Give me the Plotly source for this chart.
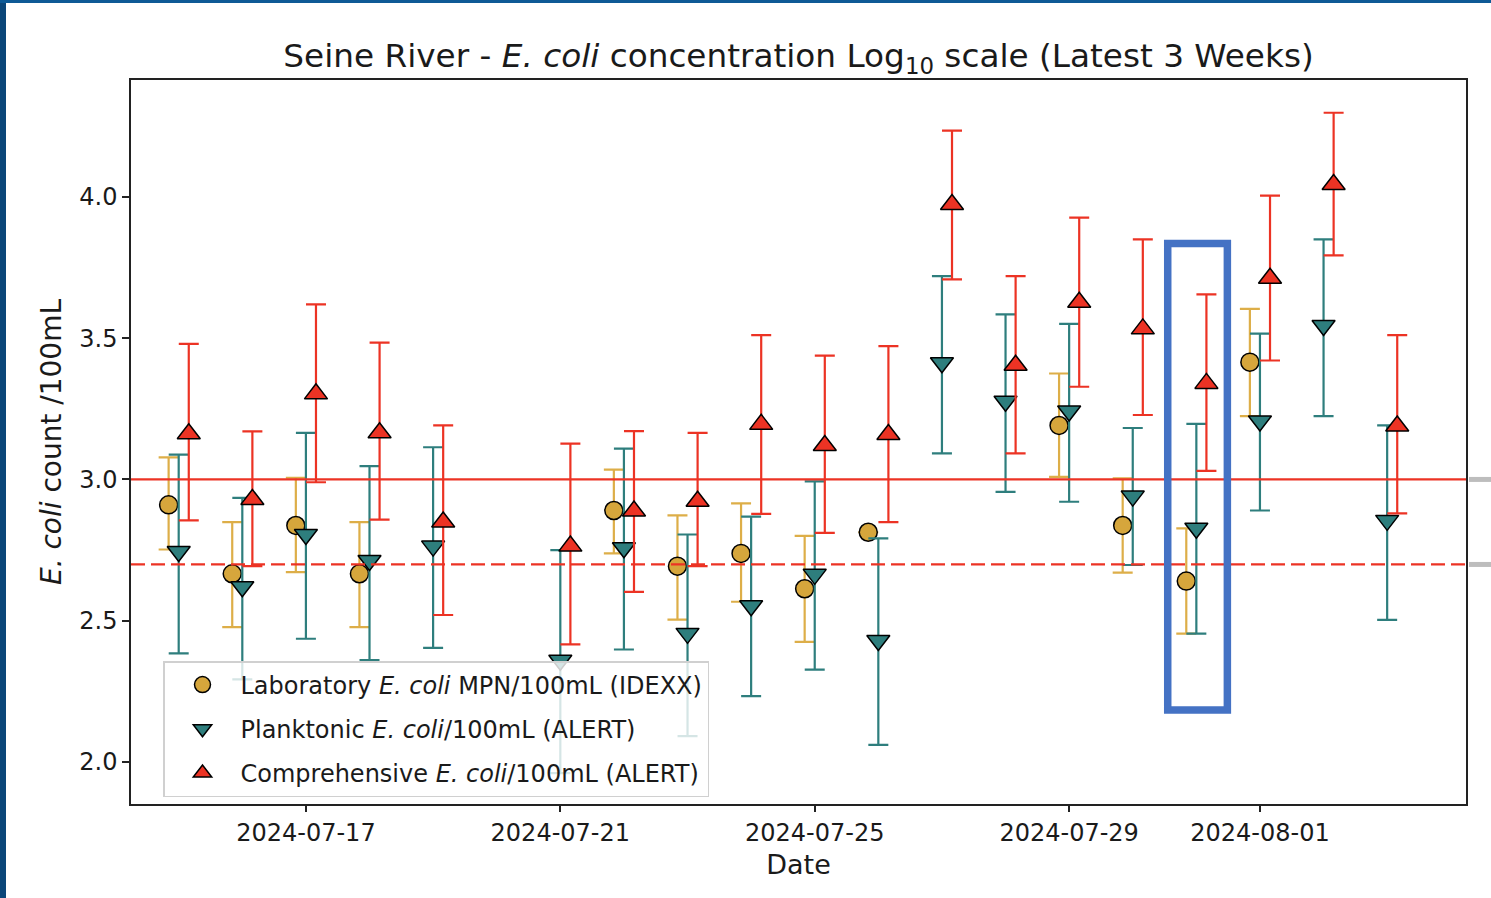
import plotly.graph_objects as go
import pandas as pd

# ---------------- data (log10 E. coli per 100 mL) ----------------
dates = ["2024-07-15", "2024-07-16", "2024-07-17", "2024-07-18", "2024-07-19",
         "2024-07-21", "2024-07-22", "2024-07-23", "2024-07-24", "2024-07-25",
         "2024-07-26", "2024-07-27", "2024-07-28", "2024-07-29", "2024-07-30",
         "2024-07-31", "2024-08-01", "2024-08-02", "2024-08-03"]

lab_value = [2.91, 2.666, 2.837, 2.666, None, None, 2.89, 2.693, 2.738, 2.613,
             2.813, None, None, 3.191, 2.837, 2.64, 3.415, None, None]
lab_upper = [3.078, 2.849, 3.006, 2.849, None, None, 3.035, 2.873, 2.915, 2.80,
             2.813, None, None, 3.375, 3.004, 2.827, 3.604, None, None]
lab_lower = [2.752, 2.477, 2.672, 2.477, None, None, 2.738, 2.504, 2.567, 2.425,
             2.813, None, None, 3.009, 2.67, 2.454, 3.224, None, None]

plank_value = [2.745, 2.62, 2.805, 2.713, 2.764, 2.36, 2.758, 2.455, 2.553, 2.664,
               2.43, 3.413, 3.277, 3.242, 2.941, 2.827, 3.207, 3.545, 2.855]
plank_upper = [3.088, 2.935, 3.165, 3.047, 3.114, 2.75, 3.109, 2.805, 2.868, 2.993,
               2.791, 3.72, 3.584, 3.551, 3.182, 3.197, 3.516, 3.85, 3.191]
plank_lower = [2.384, 2.292, 2.436, 2.36, 2.404, 1.96, 2.398, 2.091, 2.233, 2.327,
               2.06, 3.092, 2.956, 2.921, 2.697, 2.454, 2.89, 3.224, 2.503]

comp_value = [3.162, 2.929, 3.303, 3.165, 2.849, 2.764, 2.888, 2.923, 3.195, 3.12,
              3.159, 3.973, 3.404, 3.627, 3.533, 3.34, 3.712, 4.044, 3.189]
comp_upper = [3.48, 3.17, 3.62, 3.484, 3.191, 3.127, 3.171, 3.165, 3.511, 3.438,
              3.472, 4.235, 3.72, 3.927, 3.85, 3.655, 4.005, 4.298, 3.511]
comp_lower = [2.855, 2.693, 2.99, 2.858, 2.52, 2.416, 2.602, 2.693, 2.878, 2.811,
              2.849, 3.708, 3.092, 3.328, 3.228, 3.03, 3.421, 3.793, 2.88]

threshold_solid = 3.0      # log10(1000)
threshold_dashed = 2.699   # log10(500)

x_tick_dates = ["2024-07-17", "2024-07-21", "2024-07-25", "2024-07-29", "2024-08-01"]
y_tick_vals = [2.0, 2.5, 3.0, 3.5, 4.0]
y_tick_text = ["2.0", "2.5", "3.0", "3.5", "4.0"]

highlight_date = "2024-07-31"

# ---------------- styling ----------------
LAB_COLOR = "#D6A63C"
LAB_ERR = "#DDAE48"
PLANK_COLOR = "#2E7E7D"
COMP_COLOR = "#EC3324"
FONT = "DejaVu Sans"

W, H = 1491, 898
ML, MR, MT, MB = 131, 25, 80, 94
X_RANGE = ["2024-07-14 06:00", "2024-08-04 05:45"]
Y_RANGE = [1.851, 4.414]
SHIFT_H = 3.8


def build(values, upper, lower, shift_h):
    xs, ys, ep, em = [], [], [], []
    for d, v, u, l in zip(dates, values, upper, lower):
        if v is None:
            continue
        xs.append(pd.Timestamp(d) + pd.Timedelta(hours=shift_h))
        ys.append(v)
        ep.append(u - v)
        em.append(v - l)
    return xs, ys, ep, em


fig = go.Figure()

series = [
    ("Laboratory <i>E. coli</i> MPN/100mL (IDEXX)", lab_value, lab_upper, lab_lower,
     -SHIFT_H, "circle", LAB_COLOR, LAB_ERR, 18),
    ("Planktonic <i>E. coli</i>/100mL (ALERT)", plank_value, plank_upper, plank_lower,
     0, "triangle-down", PLANK_COLOR, PLANK_COLOR, 20),
    ("Comprehensive <i>E. coli</i>/100mL (ALERT)", comp_value, comp_upper, comp_lower,
     SHIFT_H, "triangle-up", COMP_COLOR, COMP_COLOR, 20),
]

for i, (name, v, u, l, sh, sym, col, ecol, size) in enumerate(series):
    xs, ys, ep, em = build(v, u, l, sh)
    fig.add_trace(go.Scatter(
        x=xs, y=ys, mode="markers", name=name, legendgroup=f"g{i}",
        marker=dict(symbol=sym, size=size, color=col,
                    line=dict(color="black", width=1.5)),
        error_y=dict(type="data", symmetric=False, array=ep, arrayminus=em,
                     color=ecol, thickness=2.2, width=10),
    ))

shapes = []
# threshold lines
shapes.append(dict(type="line", xref="paper", yref="y", x0=0, x1=1,
                   y0=threshold_solid, y1=threshold_solid,
                   line=dict(color=COMP_COLOR, width=2.2), layer="above"))
shapes.append(dict(type="line", xref="paper", yref="y", x0=0, x1=1,
                   y0=threshold_dashed, y1=threshold_dashed,
                   line=dict(color=COMP_COLOR, width=2.2, dash="14px,6px"), layer="above"))

# highlight box around one date
hd = pd.Timestamp(highlight_date)
shapes.append(dict(type="rect", xref="x", yref="y",
                   x0=hd - pd.Timedelta(hours=10.8), x1=hd + pd.Timedelta(hours=11.7),
                   y0=2.184, y1=3.835,
                   line=dict(color="#4472C4", width=7.5), fillcolor="rgba(0,0,0,0)",
                   layer="above"))

# surrounding slide decoration (outside plot)
pw = W - ML - MR
ph = H - MT - MB
def px_x(px):
    return (px - ML) / pw
def px_y(py):
    return (H - MB - py) / ph

shapes.append(dict(type="rect", xref="paper", yref="paper",
                   x0=px_x(0), x1=px_x(6), y0=px_y(H), y1=px_y(0),
                   line=dict(width=0), fillcolor="#0B4679", layer="above"))
shapes.append(dict(type="rect", xref="paper", yref="paper",
                   x0=px_x(0), x1=px_x(W), y0=px_y(3), y1=px_y(0),
                   line=dict(width=0), fillcolor="#0E5A96", layer="above"))
for yv in (threshold_solid, threshold_dashed):
    py = (yv - Y_RANGE[0]) / (Y_RANGE[1] - Y_RANGE[0])
    shapes.append(dict(type="line", xref="paper", yref="paper",
                       x0=px_x(1469), x1=px_x(W), y0=py, y1=py,
                       line=dict(color="#BDBDBD", width=5), layer="above"))

fig.update_layout(
    width=W, height=H,
    margin=dict(l=ML, r=MR, t=MT, b=MB),
    paper_bgcolor="white", plot_bgcolor="white",
    font=dict(family=FONT, size=24, color="#1a1a1a"),
    title=dict(text="Seine River - <i>E. coli</i> concentration Log<sub>10</sub> scale (Latest 3 Weeks)",
               x=0.5, xref="paper", y=1 - 56 / H, yref="container",
               xanchor="center", yanchor="middle",
               font=dict(family=FONT, size=32.7, color="#1a1a1a")),
    xaxis=dict(type="date", range=X_RANGE,
               tickvals=x_tick_dates, ticktext=x_tick_dates,
               ticks="outside", ticklen=6, tickwidth=1.5, tickcolor="#222",
               showline=True, linecolor="#222", linewidth=1.5, mirror=True,
               showgrid=False, zeroline=False,
               tickfont=dict(size=24),
               title=dict(text="Date", font=dict(size=27), standoff=10)),
    yaxis=dict(range=Y_RANGE, tickvals=y_tick_vals, ticktext=y_tick_text,
               ticks="outside", ticklen=7, tickwidth=1.5, tickcolor="#222",
               showline=True, linecolor="#222", linewidth=1.5, mirror=True,
               showgrid=False, zeroline=False,
               tickfont=dict(size=24),
               title=dict(text="<i>E. coli</i> count /100mL", font=dict(size=28), standoff=9)),
    legend=dict(x=px_x(163), y=px_y(797), xanchor="left", yanchor="bottom",
                bgcolor="rgba(255,255,255,0.8)", bordercolor="#D0D0D0", borderwidth=1.5,
                font=dict(size=24, family=FONT), tracegroupgap=10, itemwidth=66),
    shapes=shapes,
    showlegend=True,
)

fig.write_html("out.html")
